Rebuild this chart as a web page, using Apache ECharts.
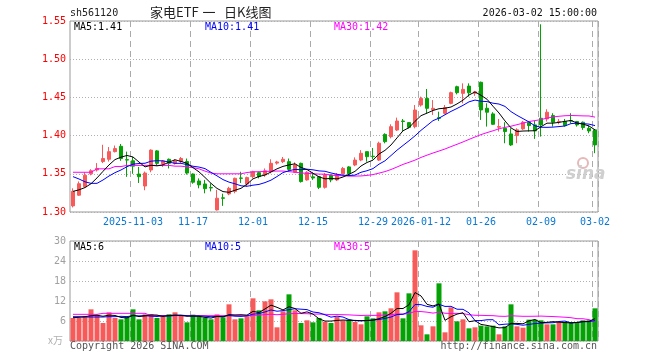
<!DOCTYPE html>
<html><head><meta charset="utf-8">
<script src="https://cdn.jsdelivr.net/npm/echarts@6/dist/echarts.min.js"></script>
<style>html,body{margin:0;padding:0;background:#fff}#c{width:660px;height:360px}</style>
</head><body><div id="c"></div>
<script>
const dates = ['2025-10-20','2025-10-21','2025-10-22','2025-10-23','2025-10-24','2025-10-27','2025-10-28','2025-10-29','2025-10-30','2025-10-31',
'2025-11-03','2025-11-04','2025-11-05','2025-11-06','2025-11-07','2025-11-10','2025-11-11','2025-11-12','2025-11-13','2025-11-14',
'2025-11-17','2025-11-18','2025-11-19','2025-11-20','2025-11-21','2025-11-24','2025-11-25','2025-11-26','2025-11-27','2025-11-28',
'2025-12-01','2025-12-02','2025-12-03','2025-12-04','2025-12-05','2025-12-08','2025-12-09','2025-12-10','2025-12-11','2025-12-12',
'2025-12-15','2025-12-16','2025-12-17','2025-12-18','2025-12-19','2025-12-22','2025-12-23','2025-12-24','2025-12-25','2025-12-26',
'2025-12-29','2025-12-30','2025-12-31','2026-01-05','2026-01-06','2026-01-07','2026-01-08','2026-01-09',
'2026-01-12','2026-01-13','2026-01-14','2026-01-15','2026-01-16','2026-01-19','2026-01-20','2026-01-21','2026-01-22','2026-01-23',
'2026-01-26','2026-01-27','2026-01-28','2026-01-29','2026-01-30','2026-02-02','2026-02-03','2026-02-04','2026-02-05','2026-02-06',
'2026-02-09','2026-02-10','2026-02-11','2026-02-12','2026-02-13','2026-02-24','2026-02-25','2026-02-26','2026-02-27','2026-03-02'];

const opens = [1.308,1.322,1.333,1.350,1.355,1.366,1.369,1.379,1.386,1.3685,
1.367,1.3497,1.334,1.355,1.380,1.363,1.369,1.3637,1.366,1.366,
1.3497,1.3406,1.3367,1.332,1.3027,1.3185,1.3236,1.327,1.3445,1.3366,
1.3463,1.3515,1.3485,1.3528,1.364,1.3659,1.3659,1.352,1.3637,1.342,
1.346,1.3463,1.3323,1.3485,1.342,1.350,1.359,1.3615,1.368,1.379,
1.373,1.368,1.4016,1.3986,1.4073,1.4191,1.417,1.4117,1.440,1.4487,
1.434,1.4235,1.4291,1.4422,1.464,1.4553,1.4648,1.4555,1.4698,1.4358,
1.4284,1.411,1.4096,1.4022,1.400,1.4088,1.4175,1.414,1.4227,1.4218,
1.4262,1.418,1.4184,1.4195,1.4184,1.4175,1.4096,1.4075];
const closes = [1.327,1.337,1.348,1.354,1.357,1.370,1.379,1.383,1.370,1.368,
1.360,1.3462,1.351,1.381,1.3637,1.3668,1.3637,1.3668,1.370,1.351,
1.339,1.3355,1.3305,1.3315,1.318,1.318,1.331,1.3441,1.3441,1.345,
1.3528,1.3463,1.354,1.3637,1.3655,1.369,1.3558,1.3615,1.3398,1.352,
1.3445,1.3323,1.3485,1.342,1.349,1.357,1.350,1.368,1.3768,1.3724,
1.3724,1.390,1.392,1.4117,1.4191,1.4185,1.4108,1.4335,1.4487,1.4357,
1.4357,1.4226,1.4366,1.4562,1.4562,1.4605,1.456,1.4572,1.4336,1.4306,
1.4148,1.4118,1.4053,1.3878,1.4075,1.4175,1.4131,1.4061,1.414,1.4306,
1.4175,1.4184,1.4131,1.4192,1.414,1.4105,1.4061,1.3878];
const lows = [1.306,1.321,1.332,1.348,1.353,1.364,1.366,1.378,1.367,1.346,
1.350,1.338,1.3285,1.352,1.3615,1.359,1.357,1.362,1.364,1.349,
1.337,1.331,1.3245,1.327,1.302,1.308,1.322,1.3245,1.338,1.333,
1.344,1.344,1.346,1.3506,1.362,1.364,1.3528,1.351,1.3385,1.341,
1.342,1.330,1.3306,1.339,1.3405,1.349,1.348,1.360,1.3665,1.3659,
1.369,1.3668,1.3899,1.3964,1.406,1.406,1.4095,1.4095,1.438,1.4291,
1.427,1.4191,1.4278,1.441,1.454,1.4422,1.451,1.452,1.4205,1.4118,
1.414,1.4053,1.390,1.3865,1.390,1.4075,1.4053,1.3957,1.3987,1.4184,
1.4118,1.4148,1.4118,1.4162,1.4118,1.4075,1.4031,1.377];
const highs = [1.331,1.340,1.352,1.356,1.364,1.388,1.385,1.387,1.389,1.379,
1.372,1.359,1.353,1.382,1.381,1.368,1.370,1.369,1.372,1.370,
1.3505,1.344,1.342,1.3375,1.329,1.324,1.333,1.345,1.3527,1.3463,
1.354,1.3528,1.357,1.369,1.367,1.372,1.370,1.365,1.3646,1.3535,
1.352,1.3463,1.351,1.349,1.351,1.359,1.360,1.3715,1.381,1.379,
1.3838,1.392,1.403,1.4148,1.4235,1.4217,1.4175,1.440,1.451,1.461,
1.4465,1.4313,1.440,1.4575,1.4653,1.4684,1.4684,1.4585,1.4707,1.4423,
1.4306,1.4218,1.4175,1.4096,1.4096,1.4192,1.4183,1.4192,1.5457,1.4345,
1.4293,1.4218,1.4218,1.4293,1.4192,1.4184,1.4131,1.4075];
const volumes = [6.9,6.9,7.4,9.5,7.9,5.4,8.6,6.9,6.5,7.2,
9.5,6.5,8.0,8.0,6.9,7.4,8.0,8.6,7.5,5.6,
7.9,7.4,7.0,6.5,8.0,7.1,11.0,6.5,6.8,7.4,
12.8,9.2,11.9,12.5,4.1,8.9,14.0,9.2,5.4,6.2,
5.6,6.9,5.8,5.4,7.2,6.2,6.4,5.7,5.0,7.4,
6.8,8.6,8.9,9.8,14.6,6.8,14.3,27.2,4.7,2.0,
4.4,17.3,2.6,10.1,5.9,6.5,3.8,4.1,4.6,4.4,
4.6,2.0,4.4,11.0,4.4,4.0,6.4,6.4,6.2,5.0,
5.0,5.7,5.7,5.7,5.7,6.2,6.2,9.8];

const ma5Head = [1.327,1.329,1.332,1.337];
const ma10Head = [1.3463,1.3432,1.3395,1.3375,1.3375,1.3419,1.3471,1.3515,1.355];
const ma30Head = [1.352,1.352,1.352,1.352,1.3565,1.3565,1.3565,1.3595,1.3595,1.361,1.361,1.361,1.361,1.361,1.361,1.361,1.361,1.360,1.360,1.359,1.358,1.3565,1.3535,1.351,1.350,1.350,1.350,1.350,1.350];
const vma5Head = [7.0,7.1,7.3,7.6];
const vma10Head = [7.3,7.3,7.2,7.2,7.2,7.2,7.3,7.3,7.4];
const vma30Head = [8.0,8.0,8.0,8.0,8.0,8.3,8.3,8.3,8.3,8.3,8.3,8.3,8.3,7.6,7.6,7.6,7.6,7.6,7.6,7.6,7.6,7.6,7.6,7.6,7.6,7.6,7.6,7.6,7.6];

const labelDates = ['2025-11-03','2025-11-17','2025-12-01','2025-12-15','2025-12-29','2026-01-12','2026-01-26','2026-02-09','2026-03-02'];
const labelTexts = ['2025-11-03','11-17','12-01','12-15','12-29','2026-01-12','01-26','02-09','03-02'];
const priceTicks = [1.30,1.35,1.40,1.45,1.50,1.55];
const volTicks = [0,6,12,18,24,30];
const titleParts = ['家电ETF', '一', '日K线图'];
const legendPrice = ['MA5:1.41','MA10:1.41','MA30:1.42'];
const legendVol = ['MA5:6','MA10:5','MA30:5'];

const UP = '#f85a5a', DOWN = '#05a205';
function ma(arr, n, head) {
  return arr.map((v, i) => {
    if (i < n - 1) return head[i];
    let s = 0; for (let k = i - n + 1; k <= i; k++) s += arr[k];
    return +(s / n).toFixed(4);
  });
}
const kData = dates.map((d, i) => [opens[i], closes[i], lows[i], highs[i]]);
const volData = volumes.map((v, i) => ({value: v, itemStyle: {color: closes[i] >= opens[i] ? UP : DOWN}}));
const isLabel = (idx) => labelDates.indexOf(dates[idx]) >= 0;
const MONO = 'DejaVu Sans Mono';
const CJK = '"Noto Sans CJK SC"';
const gridLineV = {show: true, interval: (idx) => isLabel(idx), lineStyle: {color: '#aaa', type: [6, 4], width: 1}};
const gridLineH = {show: true, lineStyle: {color: '#b0b0b0', type: [1, 2], width: 1}};

const chart = echarts.init(document.getElementById('c'), null, {renderer: 'canvas'});
function txt(x, y, text, fill, align, font) {
  return {type: 'text', x: x, y: y, silent: true, z: 100,
    style: {text: text, fill: fill, align: align || 'left', verticalAlign: 'middle', font: font || ('10px ' + MONO)}};
}
chart.setOption({
  animation: false,
  backgroundColor: '#fff',
  grid: [
    {left: 70, right: 62, top: 21, height: 191, show: true, borderColor: '#999', borderWidth: 1},
    {left: 70, right: 62, top: 241, height: 100, show: true, borderColor: '#999', borderWidth: 1}
  ],
  xAxis: [
    {type: 'category', gridIndex: 0, data: dates, boundaryGap: true,
      axisLine: {show: false}, axisTick: {show: false},
      axisLabel: {interval: (idx) => isLabel(idx), margin: 5, color: '#0a78d2', fontFamily: MONO, fontSize: 10,
        formatter: (v) => labelTexts[labelDates.indexOf(v)]},
      splitLine: gridLineV},
    {type: 'category', gridIndex: 1, data: dates, boundaryGap: true,
      axisLine: {show: false}, axisTick: {show: false}, axisLabel: {show: false},
      splitLine: gridLineV}
  ],
  yAxis: [
    {type: 'value', gridIndex: 0, min: priceTicks[0], max: priceTicks[priceTicks.length - 1], interval: 0.05,
      axisLine: {show: false}, axisTick: {show: false},
      axisLabel: {color: '#ff0000', fontFamily: MONO, fontSize: 10, margin: 4, formatter: (v) => v.toFixed(2)},
      splitLine: gridLineH},
    {type: 'value', gridIndex: 1, min: volTicks[0], max: volTicks[volTicks.length - 1], interval: 6,
      axisLine: {show: false}, axisTick: {show: false},
      axisLabel: {color: '#a0a0a0', fontFamily: MONO, fontSize: 10, margin: 4, formatter: (v) => v === 0 ? '' : String(v)},
      splitLine: gridLineH}
  ],
  series: [
    {type: 'candlestick', xAxisIndex: 0, yAxisIndex: 0, data: kData, barWidth: 4,
      itemStyle: {color: UP, color0: DOWN, borderColor: UP, borderColor0: DOWN, borderWidth: 1}},
    {type: 'line', xAxisIndex: 0, yAxisIndex: 0, data: ma(closes, 30, ma30Head), symbol: 'none', z: 5,
      lineStyle: {color: '#ff00ff', width: 1}},
    {type: 'line', xAxisIndex: 0, yAxisIndex: 0, data: ma(closes, 10, ma10Head), symbol: 'none', z: 5,
      lineStyle: {color: '#0000ff', width: 1}},
    {type: 'line', xAxisIndex: 0, yAxisIndex: 0, data: ma(closes, 5, ma5Head), symbol: 'none', z: 5,
      lineStyle: {color: '#000000', width: 1}},
    {type: 'bar', xAxisIndex: 1, yAxisIndex: 1, data: volData, barWidth: 5},
    {type: 'line', xAxisIndex: 1, yAxisIndex: 1, data: ma(volumes, 30, vma30Head), symbol: 'none', z: 5,
      lineStyle: {color: '#ff00ff', width: 1}},
    {type: 'line', xAxisIndex: 1, yAxisIndex: 1, data: ma(volumes, 10, vma10Head), symbol: 'none', z: 5,
      lineStyle: {color: '#0000ff', width: 1}},
    {type: 'line', xAxisIndex: 1, yAxisIndex: 1, data: ma(volumes, 5, vma5Head), symbol: 'none', z: 5,
      lineStyle: {color: '#000000', width: 1}}
  ],
  graphic: [
    txt(70, 13, 'sh561120', '#222'),
    txt(150, 12, titleParts[0], '#222', 'left', '13px ' + CJK),
    txt(209, 12, titleParts[1], '#222', 'center', '13px ' + CJK),
    txt(224, 12, titleParts[2], '#222', 'left', '13px ' + CJK),
    txt(597, 13, '2026-03-02 15:00:00', '#111', 'right'),
    txt(74, 27, legendPrice[0], '#000'),
    txt(205, 27, legendPrice[1], '#0000ff'),
    txt(334, 27, legendPrice[2], '#ff00ff'),
    txt(74, 247, legendVol[0], '#000'),
    txt(205, 247, legendVol[1], '#0000ff'),
    txt(334, 247, legendVol[2], '#ff00ff'),
    txt(48, 340, 'x万', '#b0b0b0', 'left', '10px ' + CJK),
    txt(70, 346, 'Copyright 2026 SINA.COM', '#555'),
    txt(597, 346, 'http://finance.sina.com.cn', '#555', 'right'),
    {type: 'circle', shape: {cx: 583, cy: 163, r: 5}, silent: true, z: 1,
      style: {fill: 'none', stroke: '#e6b8b8', lineWidth: 2}},
    txt(566, 175, 'sina', '#cfcfcf', 'left', 'italic bold 17px "DejaVu Sans"')
  ]
});
</script></body></html>
